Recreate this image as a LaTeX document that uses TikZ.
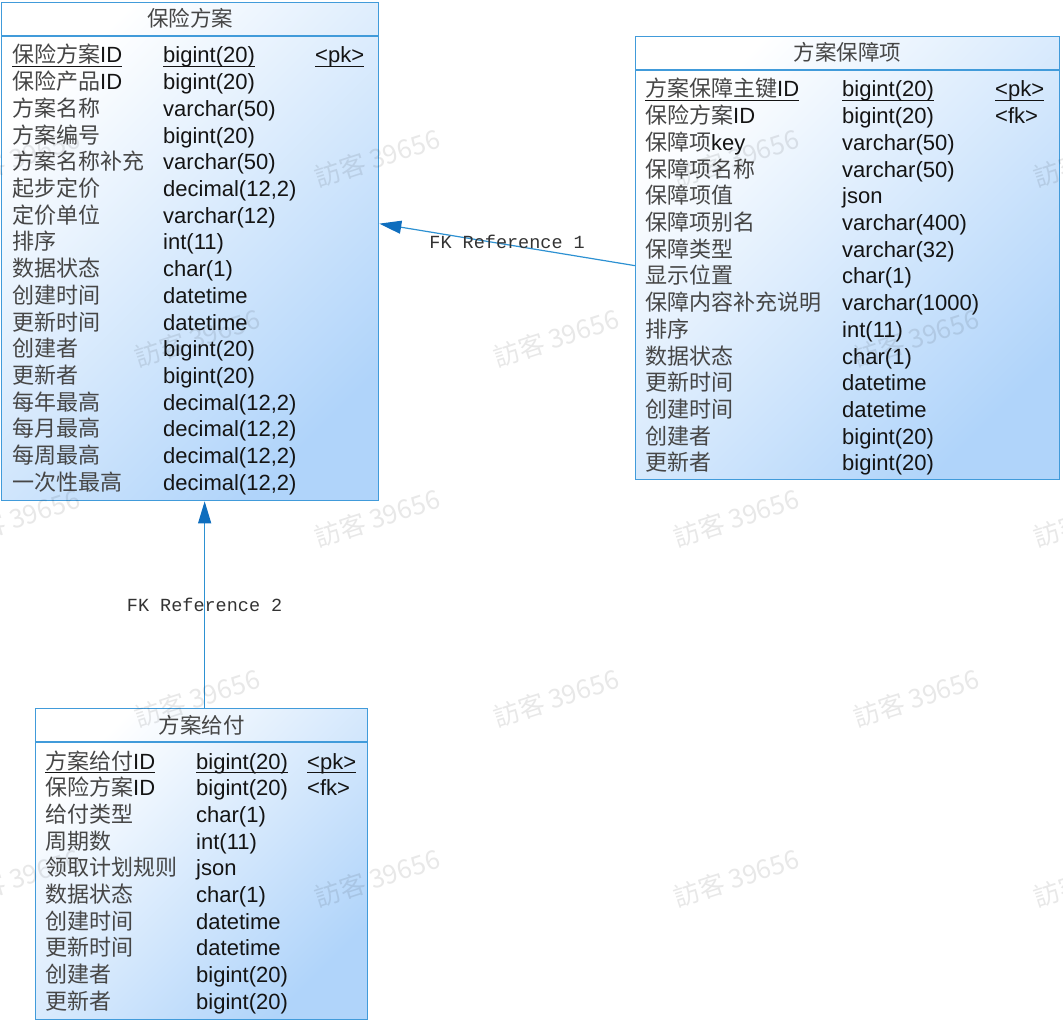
\documentclass[tikz,border=0pt]{standalone}
\usepackage{fontspec}
\setmainfont{Liberation Sans}
\newfontfamily\cjk{Noto Sans CJK SC}
\newfontfamily\fkfont{Liberation Mono}
\usetikzlibrary{arrows.meta,positioning}

\definecolor{erBorder}{RGB}{65,155,218}
\definecolor{erFill}{RGB}{176,212,250}
\definecolor{erLink}{RGB}{45,145,210}
\definecolor{erHead}{RGB}{15,110,190}
\definecolor{erCJK}{RGB}{70,70,70}
\definecolor{erText}{RGB}{20,20,20}

% latin parts inside a chinese field name
\newcommand\en[1]{{\normalfont\color{erText}#1}}

\begin{document}
\begin{tikzpicture}[x=1pt,y=-1pt,
    tablebox/.style={draw=erBorder, line width=1.3pt, top color=white, bottom color=erFill,
        shading angle=45, inner sep=0pt, anchor=north west},
    cell/.style={inner sep=0pt, text height=19pt, text depth=3pt, anchor=west,
        font=\fontsize{22}{26}\selectfont},
    namecell/.style={cell, font=\cjk\fontsize{22}{26}\selectfont, text=erCJK},
    typecell/.style={cell, text=erText},
    titlecell/.style={cell, anchor=center, font=\cjk\fontsize{21.5}{26}\selectfont, text=erCJK},
    uline/.style={draw=erText, line width=1pt},
    fklink/.style={draw=erLink, line width=1.2pt, -{Triangle[length=22pt,width=13pt,color=erHead]}},
    fklabel/.style={inner sep=0pt, font=\fkfont\fontsize{18.5}{20}\selectfont, text=black!80},
    watermark/.style={font=\cjk\fontsize{26}{30}\selectfont, text=black, opacity=0.09, rotate=18}]

    \useasboundingbox (0,0) rectangle (1063,1022);

    % tables
    \node[tablebox, minimum width=377pt, minimum height=498pt] (fa) at (1,2) {};
    \node[tablebox, minimum width=424pt, minimum height=443pt] (bz) at (635,36) {};
    \node[tablebox, minimum width=332pt, minimum height=311pt] (gf) at (35,708) {};

    % title rows
    \foreach \t/\ttl in {fa/保险方案, bz/方案保障项, gf/方案给付} {
        \draw[draw=erBorder, line width=1.3pt] ([yshift=-34pt]\t.north west) -- ([yshift=-34pt]\t.north east);
        \node[titlecell] (\t-title) at ([yshift=-17pt]\t.north) {\ttl};
    }

    % 保险方案
    \foreach \nm/\ty [count=\i] in {保险方案\en{ID}/bigint(20), 保险产品\en{ID}/bigint(20),
        方案名称/varchar(50), 方案编号/bigint(20), 方案名称补充/varchar(50),
        起步定价/{decimal(12,2)}, 定价单位/varchar(12), 排序/int(11), 数据状态/char(1),
        创建时间/datetime, 更新时间/datetime, 创建者/bigint(20), 更新者/bigint(20),
        每年最高/{decimal(12,2)}, 每月最高/{decimal(12,2)}, 每周最高/{decimal(12,2)},
        一次性最高/{decimal(12,2)}} {
        \node[namecell] (fa-n\i) at (12, {55+(\i-1)*26.7}) {\nm};
        \node[typecell] (fa-t\i) at (163, {55+(\i-1)*26.7}) {\ty};
    }
    \node[typecell] (fa-k1) at (315,55) {<pk>};

    % 方案保障项
    \foreach \nm/\ty [count=\i] in {方案保障主键\en{ID}/bigint(20), 保险方案\en{ID}/bigint(20),
        保障项\en{key}/varchar(50), 保障项名称/varchar(50), 保障项值/json,
        保障项别名/varchar(400), 保障类型/varchar(32), 显示位置/char(1),
        保障内容补充说明/varchar(1000), 排序/int(11), 数据状态/char(1),
        更新时间/datetime, 创建时间/datetime, 创建者/bigint(20), 更新者/bigint(20)} {
        \node[namecell] (bz-n\i) at (645, {89+(\i-1)*26.7}) {\nm};
        \node[typecell] (bz-t\i) at (842, {89+(\i-1)*26.7}) {\ty};
    }
    \node[typecell] (bz-k1) at (995,89) {<pk>};
    \node[typecell] (bz-k2) at (995,115.7) {<fk>};

    % 方案给付
    \foreach \nm/\ty [count=\i] in {方案给付\en{ID}/bigint(20), 保险方案\en{ID}/bigint(20),
        给付类型/char(1), 周期数/int(11), 领取计划规则/json, 数据状态/char(1),
        创建时间/datetime, 更新时间/datetime, 创建者/bigint(20), 更新者/bigint(20)} {
        \node[namecell] (gf-n\i) at (45, {761+(\i-1)*26.7}) {\nm};
        \node[typecell] (gf-t\i) at (196, {761+(\i-1)*26.7}) {\ty};
    }
    \node[typecell] (gf-k1) at (307,761) {<pk>};
    \node[typecell] (gf-k2) at (307,787.7) {<fk>};

    % primary keys underlined
    \foreach \n in {fa-n1,fa-t1,fa-k1,bz-n1,bz-t1,bz-k1,gf-n1,gf-t1,gf-k1}
        \draw[uline] (\n.south west) -- (\n.south east);

    % references
    \draw[fklink] ([yshift=-7.5pt]bz.west) -- node[fklabel, yshift=3pt] (fk1) {FK Reference 1} ([yshift=28pt]fa.east);
    \coordinate (fa-in) at (gf.north |- fa.south);
    \draw[fklink] ([xshift=3pt]gf.north) -- node[fklabel] (fk2) {FK Reference 2} ([xshift=3pt]fa-in);

    % watermark
    \foreach \wx/\wy [count=\w] in {17/158, 377/158, 736/158, 1096/158,
        197/338, 556/338, 916/338,
        17/518, 377/518, 736/518, 1096/518,
        197/698, 556/698, 916/698,
        17/878, 377/878, 736/878, 1096/878}
        \node[watermark] (wm\w) at (\wx,\wy) {訪客 39656};
\end{tikzpicture}
\end{document}
